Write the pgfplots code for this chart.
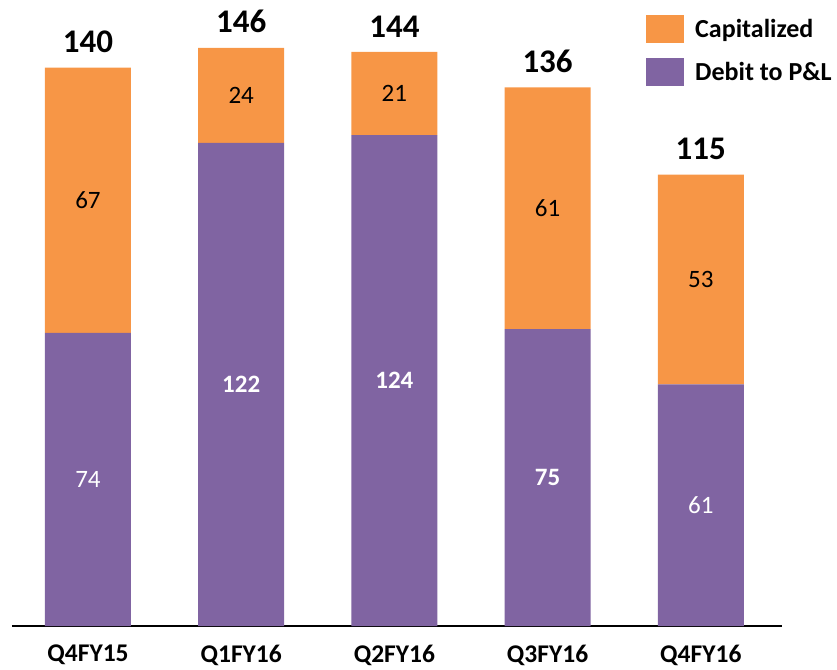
\documentclass[border=0pt]{standalone}
\usepackage{pgfplots}
\pgfplotsset{compat=1.18}
\usepackage{pgfplotstable}
\usepackage{fontspec}
\setmainfont{Carlito}
\definecolor{capc}{HTML}{F79646}
\definecolor{debc}{HTML}{8064A2}
\pgfplotstableread{
x debit cap total b
0 74 67 140 0
1 122 24 146 1
2 124 21 144 1
3 75 61 136 1
4 61 53 115 0
}\data
\pgfplotsset{
  base/.style={
    at={(12pt,43pt)}, anchor=south west, scale only axis,
    width=770pt, height=626pt,
    xmin=-0.496, xmax=4.53, ymin=0, ymax=158.1,
    clip=false,
    /pgf/number format/assume math mode=true,
  }
}
\begin{document}
\begin{tikzpicture}[x=1pt,y=1pt]
\useasboundingbox (0,0) rectangle (837,669);
\begin{axis}[base,
  ybar stacked, bar width=86pt,
  axis x line=bottom, axis y line=none,
  axis line style={line width=2pt,-},
  xtick={0,1,2,3,4},
  xticklabels={Q4FY15,Q1FY16,Q2FY16,Q3FY16,Q4FY16},
  major tick length=0pt,
  ytick=\empty,
  x tick label style={font=\bfseries\fontsize{25.5}{25.5}\selectfont, yshift=-15.5pt},
  reverse legend,
  legend cell align=left,
  legend style={at={(634pt,611pt)}, anchor=north west, draw=none, fill=none,
    inner sep=0pt, row sep=15pt,
    font=\bfseries\fontsize{26}{26}\selectfont,
    nodes={inner sep=0pt}, /tikz/every odd column/.append style={column sep=11pt}},
  legend image code/.code={\fill[#1] (0pt,-14pt) rectangle (38pt,14pt);},
]
\addplot[fill=debc, draw=none] table[x=x, y=debit] \data;
\addlegendentry{Debit to P\&L}
\addplot[fill=capc, draw=none] table[x=x, y=cap] \data;
\addlegendentry{Capitalized}
\end{axis}
\begin{axis}[base, hide axis]
\addplot[draw=none, mark=none, point meta=explicit,
  visualization depends on={\thisrow{b}\as\isb},
  nodes near coords={\ifdim\isb pt>0.5pt \bfseries\fi\pgfmathprintnumber{\pgfplotspointmeta}},
  every node near coord/.append style={anchor=center, text=white, font=\fontsize{25}{25}\selectfont}]
  table[x=x, y expr=\thisrow{debit}/2, meta=debit] \data;
\addplot[draw=none, mark=none, point meta=explicit,
  nodes near coords,
  every node near coord/.append style={anchor=center, text=black, font=\fontsize{25}{25}\selectfont}]
  table[x=x, y expr=\thisrow{debit}+\thisrow{cap}/2, meta=cap] \data;
\addplot[draw=none, mark=none, point meta=explicit,
  nodes near coords,
  every node near coord/.append style={anchor=south, inner sep=0pt, yshift=14.5pt, text=black, font=\bfseries\fontsize{33}{33}\selectfont}]
  table[x=x, y expr=\thisrow{debit}+\thisrow{cap}, meta=total] \data;
\end{axis}
\end{tikzpicture}
\end{document}
